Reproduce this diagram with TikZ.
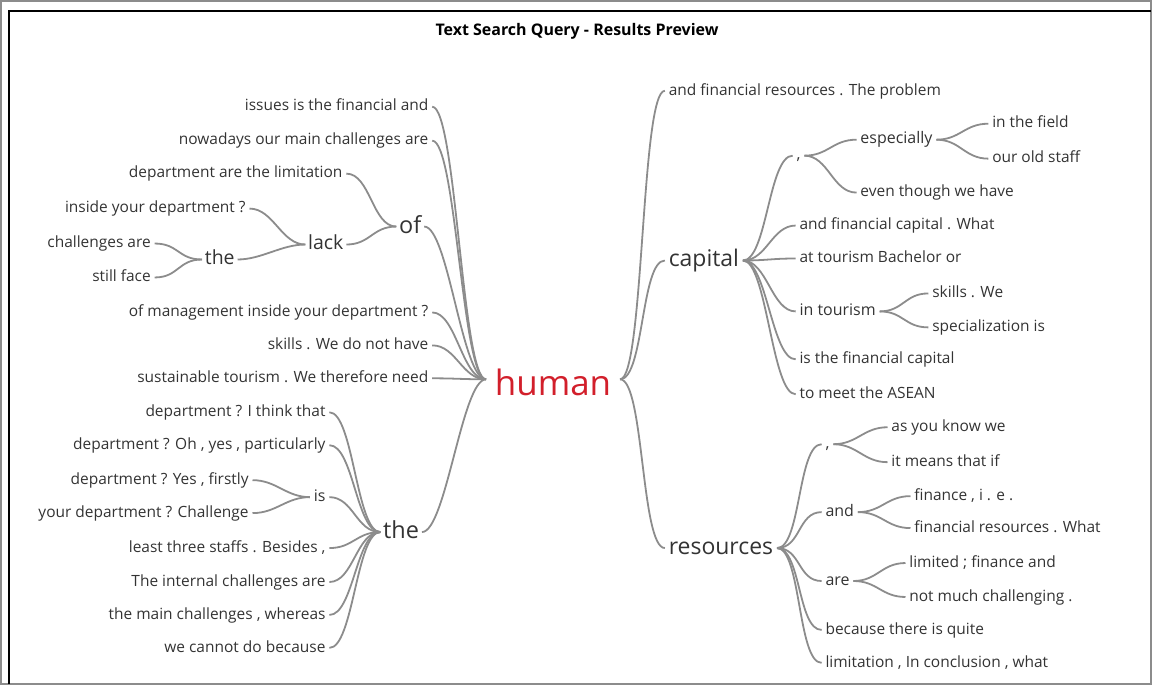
\documentclass[tikz,border=0pt]{standalone}
\usepackage{fontspec}
\setmainfont{Open Sans}
\definecolor{txt}{HTML}{333333}
\definecolor{lnk}{HTML}{8C8C8C}
\definecolor{hum}{HTML}{D21F2B}
\begin{document}
\begin{tikzpicture}[
			x=1pt, y=-1pt,
			w/.style={font=\fontsize{15.5}{18}\selectfont, text=txt, inner sep=3pt, text height=11pt, text depth=2.5pt},
			wm/.style={w, font=\fontsize{16}{19}\selectfont},
			wl/.style={w, font=\fontsize{19.5}{23}\selectfont, inner xsep=2pt, text height=14pt, text depth=3.5pt},
			wb/.style={w, font=\fontsize{23.5}{27}\selectfont, inner xsep=2pt, text height=17pt, text depth=4pt},
			wx/.style={w, font=\fontsize{23}{27}\selectfont, inner xsep=3pt, text height=17pt, text depth=4pt},
			br/.style={out=0, in=180, out distance=24pt, in distance=24pt},
			every path/.style={draw=lnk, line width=1.8pt},
			]
			\useasboundingbox (0,0) rectangle (1152,684);
			\draw[draw=black, line width=1.5pt] (8,684) -- (8,10) -- (1152,10);
			\node[draw=none, font=\bfseries\fontsize{16}{19}\selectfont] (title) at (577,30) {Text Search Query - Results Preview};
			% --- корень ---
			\node[draw=none, font=\fontsize{35}{40}\selectfont, text=hum, inner xsep=8pt, inner ysep=0pt, text height=32pt, text depth=0pt] (h) at (553,379) {human};
			% --- левая ветвь ---
			\node[w, anchor=east] (a1) at (432,106) {issues is the financial and};
			\node[w, anchor=east] (a2) at (432,140) {nowadays our main challenges are};
			\node[wb, anchor=west] (of) at (396,226) {of};
			\node[w, anchor=east] (a3) at (432,312) {of management inside your department ?};
			\node[w, anchor=east] (a4) at (432,345) {skills . We do not have};
			\node[w, anchor=east] (a5) at (432,378) {sustainable tourism . We therefore need};
			\node[wb, anchor=west] (t1) at (380,532) {the};
			\draw (a1.east) to[br] (h.west); \draw (a2.east) to[br] (h.west); \draw (of.east) to[br] (h.west);
			\draw (a3.east) to[br] (h.west); \draw (a4.east) to[br] (h.west); \draw (a5.east) to[br] (h.west);
			\draw (t1.east) to[br] (h.west);
			% --- of / lack / the ---
			\node[w, anchor=east] (b1) at (346,173) {department are the limitation};
			\node[wl, anchor=east] (lk) at (346,244) {lack};
			\node[w, anchor=east] (b2) at (249,208) {inside your department ?};
			\node[wl, anchor=east] (t2) at (237,259) {the};
			\node[w, anchor=east] (b3) at (154,243) {challenges are};
			\node[w, anchor=east] (b4) at (154,277) {still face};
			\draw (b1.east) to[br] (of.west); \draw (lk.east) to[br] (of.west);
			\draw (b2.east) to[br] (lk.west); \draw (t2.east) to[br] (lk.west);
			\draw (b3.east) to[br] (t2.west); \draw (b4.east) to[br] (t2.west);
			% --- the / is ---
			\node[w, anchor=east] (c1) at (329,412) {department ? I think that};
			\node[w, anchor=east] (c2) at (329,445) {department ? Oh , yes , particularly};
			\node[wm, anchor=east] (is) at (329,497) {is};
			\node[w, anchor=east] (c3) at (252,480) {department ? Yes , firstly};
			\node[w, anchor=east] (c4) at (252,513) {your department ? Challenge};
			\node[w, anchor=east] (c5) at (329,548) {least three staffs . Besides ,};
			\node[w, anchor=east] (c6) at (329,582) {The internal challenges are};
			\node[w, anchor=east] (c7) at (329,615) {the main challenges , whereas};
			\node[w, anchor=east] (c8) at (329,648) {we cannot do because};
			\draw (c1.east) to[br] (t1.west); \draw (c2.east) to[br] (t1.west); \draw (is.east) to[br] (t1.west);
			\draw (c5.east) to[br] (t1.west); \draw (c6.east) to[br] (t1.west); \draw (c7.east) to[br] (t1.west);
			\draw (c8.east) to[br] (t1.west);
			\draw (c3.east) to[br] (is.west); \draw (c4.east) to[br] (is.west);
			% --- правая ветвь ---
			\node[w, anchor=west] (d1) at (665,90) {and financial resources . The problem};
			\node[wx, anchor=west] (cap) at (665,260) {capital};
			\node[wx, anchor=west] (res) at (665,548) {resources};
			\draw (h.east) to[br] (d1.west); \draw (h.east) to[br] (cap.west); \draw (h.east) to[br] (res.west);
			% --- capital ---
			\node[wm, anchor=west] (k1) at (793,155) {,};
			\node[wm, anchor=west] (esp) at (857,139) {especially};
			\node[w, anchor=west] (e1) at (989,123) {in the field};
			\node[w, anchor=west] (e2) at (989,158) {our old staff};
			\node[w, anchor=west] (e3) at (857,192) {even though we have};
			\node[w, anchor=west] (f1) at (796,225) {and financial capital . What};
			\node[w, anchor=west] (f2) at (796,258) {at tourism Bachelor or};
			\node[wm, anchor=west] (tour) at (796,311) {in tourism};
			\node[w, anchor=west] (g1) at (929,293) {skills . We};
			\node[w, anchor=west] (g2) at (929,327) {specialization is};
			\node[w, anchor=west] (f3) at (796,359) {is the financial capital};
			\node[w, anchor=west] (f4) at (796,394) {to meet the ASEAN};
			\draw (cap.east) to[br] (k1.west); \draw (cap.east) to[br] (f1.west); \draw (cap.east) to[br] (f2.west);
			\draw (cap.east) to[br] (tour.west); \draw (cap.east) to[br] (f3.west); \draw (cap.east) to[br] (f4.west);
			\draw (k1.east) to[br] (esp.west); \draw (k1.east) to[br] (e3.west);
			\draw (esp.east) to[br] (e1.west); \draw (esp.east) to[br] (e2.west);
			\draw (tour.east) to[br] (g1.west); \draw (tour.east) to[br] (g2.west);
			% --- resources ---
			\node[wm, anchor=west] (k2) at (822,444) {,};
			\node[w, anchor=west] (m1) at (888,427) {as you know we};
			\node[w, anchor=west] (m2) at (888,462) {it means that if};
			\node[wm, anchor=west] (nd) at (822,512) {and};
			\node[w, anchor=west] (n1) at (911,496) {finance , i . e .};
			\node[w, anchor=west] (n2) at (911,528) {financial resources . What};
			\node[wm, anchor=west] (ar) at (822,581) {are};
			\node[w, anchor=west] (p1) at (906,563) {limited ; finance and};
			\node[w, anchor=west] (p2) at (906,597) {not much challenging .};
			\node[w, anchor=west] (q1) at (822,630) {because there is quite};
			\node[w, anchor=west] (q2) at (822,663) {limitation , In conclusion , what};
			\draw (res.east) to[br] (k2.west); \draw (res.east) to[br] (nd.west); \draw (res.east) to[br] (ar.west);
			\draw (res.east) to[br] (q1.west); \draw (res.east) to[br] (q2.west);
			\draw (k2.east) to[br] (m1.west); \draw (k2.east) to[br] (m2.west);
			\draw (nd.east) to[br] (n1.west); \draw (nd.east) to[br] (n2.west);
			\draw (ar.east) to[br] (p1.west); \draw (ar.east) to[br] (p2.west);
		\end{tikzpicture}
\end{document}
